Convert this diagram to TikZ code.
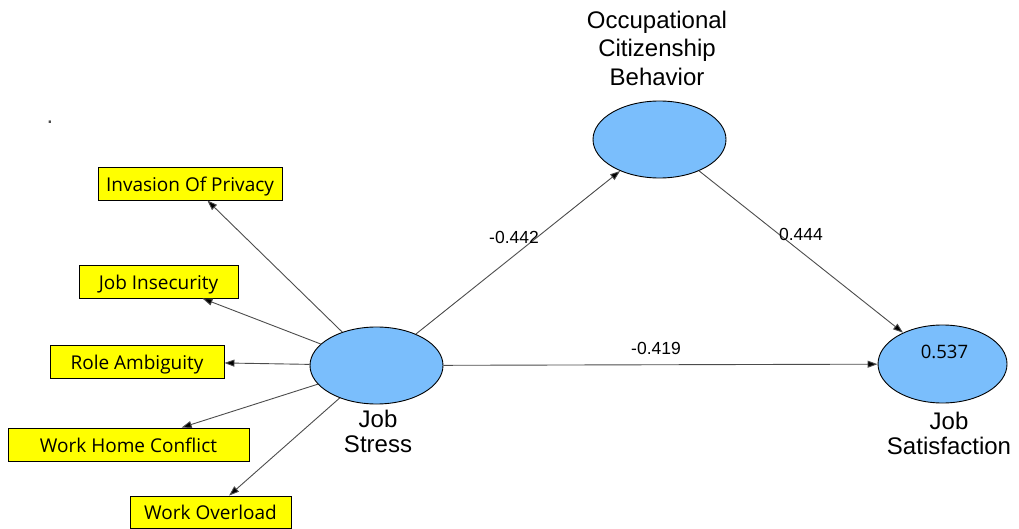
\documentclass[tikz,border=0pt]{standalone}
\usepackage{fontspec}
\setmainfont{Liberation Sans}
\newfontfamily\boxfont{Open Sans}
\usetikzlibrary{shapes.geometric,arrows.meta}
\definecolor{lvblue}{RGB}{122,190,252}
\definecolor{boxyellow}{RGB}{255,255,0}
\begin{document}
\begin{tikzpicture}[x=1pt,y=-1pt,
  lv/.style={ellipse,draw=black,line width=0.9pt,fill=lvblue,minimum width=133pt,minimum height=77pt,inner sep=0pt},
  ind/.style={rectangle,draw=black,line width=0.9pt,fill=boxyellow,minimum height=33pt,inner sep=0pt,
    text height=15.5pt,text depth=0pt,font=\boxfont\fontsize{19}{22}\selectfont},
  lbl/.style={font=\fontsize{24}{25}\selectfont,align=center,inner sep=0pt,anchor=north},
  coef/.style={font=\fontsize{17.5}{20}\selectfont,inner sep=0pt},
  arr/.style={draw=black!70,line width=0.9pt,-{Triangle[length=10pt,width=7pt,fill=black]}}
]
\useasboundingbox (0,0) rectangle (1019,529);

% latent variables
\node[lv] (js) at (376.5,365.5) {};
\node[lv] (ocb) at (659.5,139.5) {};
\node[lv,minimum width=129pt,minimum height=78pt] (jsat) at (942.5,364) {};
\node[font=\boxfont\fontsize{18.5}{20}\selectfont,inner sep=0pt] (r2) at (944.5,352) {0.537};

% labels
\node[lbl,font=\fontsize{24}{28.5}\selectfont] (ocblbl) at (657,10.5) {Occupational\\Citizenship\\Behavior};
\node[lbl] (jslbl) at (378,410) {Job\\Stress};
\node[lbl,font=\fontsize{24}{24.5}\selectfont] (jsatlbl) at (949,412) {Job\\Satisfaction};

% indicators
\node[ind,minimum width=184pt] (ip) at (190,183.5) {Invasion Of Privacy};
\node[ind,minimum width=159pt] (ji) at (158.5,281.5) {Job Insecurity};
\node[ind,minimum width=174pt] (ra) at (137,361.5) {Role Ambiguity};
\node[ind,minimum width=241pt] (whc) at (128.5,444.5) {Work Home Conflict};
\node[ind,minimum width=161pt,minimum height=32pt] (wo) at (210.5,512) {Work Overload};

% stray dot
\node[font=\fontsize{24}{24}\selectfont,text=black!70,inner sep=0pt] (dot) at (50,122) {.};

% connectors
\draw[arr] (js) -- (ip);
\draw[arr] (js) -- (ji);
\draw[arr] (js) -- (ra);
\draw[arr] (js) -- (whc);
\draw[arr] (js) -- (wo);
\draw[arr] (js) -- (ocb);
\draw[arr] (ocb) -- (jsat);
\draw[arr] (js) -- (jsat);

% coefficients
\node[coef] (c1) at (514,237) {-0.442};
\node[coef] (c2) at (801,234) {0.444};
\node[coef] (c3) at (656,348.5) {-0.419};
\end{tikzpicture}
\end{document}
